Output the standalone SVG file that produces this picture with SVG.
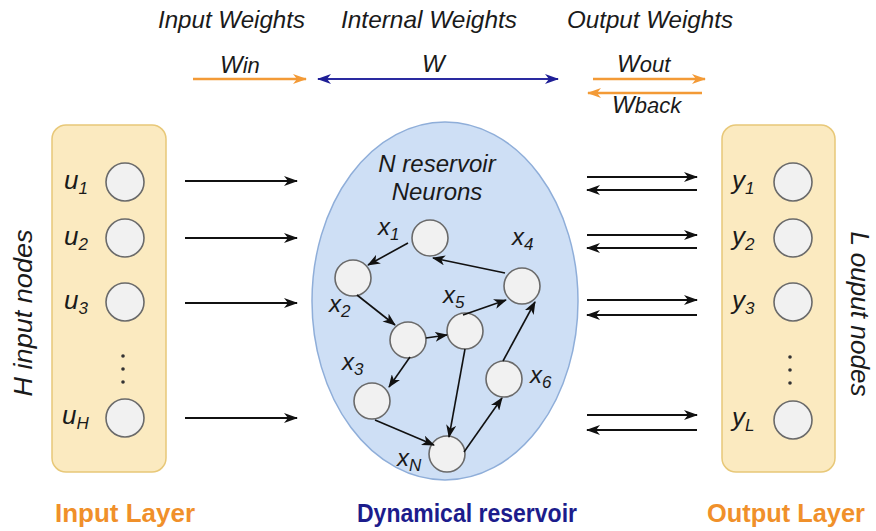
<svg xmlns="http://www.w3.org/2000/svg" width="876" height="531" viewBox="0 0 876 531">
<defs>
<style>
.it{font-family:"Liberation Sans",Arial,sans-serif;font-style:italic;fill:#1a1a1a}
.hd{font-size:24px}
.lb{font-size:26px}
.sb{font-size:17px}
.rl{font-size:24px}
.bt{font-family:"Liberation Sans",Arial,sans-serif;font-weight:bold;font-size:26px}
.layer{fill:#FBEAC0;stroke:#E8C878;stroke-width:1.5}
.nd{fill:#F1F1F1;stroke:#6A6A6A;stroke-width:1.6}
.blk{stroke:#111;stroke-width:2;fill:none;marker-end:url(#mk)}
.edg{stroke:#111;stroke-width:1.6;fill:none;marker-end:url(#ms)}
</style>
<marker id="mk" viewBox="0 0 14 10" refX="13" refY="5" markerWidth="14" markerHeight="10" orient="auto" markerUnits="userSpaceOnUse"><path d="M0,0 L14,5 L0,10 L4,5 z" fill="#111"/></marker>
<marker id="ms" viewBox="0 0 13 10" refX="12" refY="5" markerWidth="13" markerHeight="10" orient="auto" markerUnits="userSpaceOnUse"><path d="M0,0 L13,5 L0,10 L3.5,5 z" fill="#111"/></marker>
<marker id="mo" viewBox="0 0 14 10" refX="13" refY="5" markerWidth="14" markerHeight="11" orient="auto" markerUnits="userSpaceOnUse"><path d="M0,0 L14,5 L0,10 L4,5 z" fill="#F39A36"/></marker>
<marker id="mb" viewBox="0 0 14 10" refX="13" refY="5" markerWidth="14" markerHeight="11" orient="auto-start-reverse" markerUnits="userSpaceOnUse"><path d="M0,0 L14,5 L0,10 L4,5 z" fill="#1E1E96"/></marker>
</defs>

<g id="header">
<text class="it hd" x="158" y="28" textLength="147" lengthAdjust="spacingAndGlyphs">Input Weights</text>
<text class="it hd" x="341" y="28" textLength="176" lengthAdjust="spacingAndGlyphs">Internal Weights</text>
<text class="it hd" x="567" y="28" textLength="166" lengthAdjust="spacingAndGlyphs">Output Weights</text>
<text class="it hd" x="220" y="73">W<tspan font-size="22">in</tspan></text>
<text class="it hd" x="422" y="72">W</text>
<text class="it hd" x="617" y="72">W<tspan font-size="22">out</tspan></text>
<text class="it hd" x="612" y="113">W<tspan font-size="22">back</tspan></text>
</g>

<g id="input-layer">
<rect class="layer" x="52" y="125" width="114" height="347" rx="14"/>
<circle class="nd" cx="125" cy="182" r="19"/>
<circle class="nd" cx="125" cy="238" r="19"/>
<circle class="nd" cx="125" cy="302" r="19"/>
<circle class="nd" cx="125" cy="418" r="19"/>
<circle cx="123" cy="356" r="1.8" fill="#333"/>
<circle cx="123" cy="369" r="1.8" fill="#333"/>
<circle cx="123" cy="382" r="1.8" fill="#333"/>
<text class="it lb" x="64" y="189">u<tspan class="sb" dy="5">1</tspan></text>
<text class="it lb" x="64" y="245">u<tspan class="sb" dy="5">2</tspan></text>
<text class="it lb" x="64" y="309">u<tspan class="sb" dy="5">3</tspan></text>
<text class="it lb" x="62" y="424">u<tspan class="sb" dy="5">H</tspan></text>
<text class="it lb" transform="translate(32,313) rotate(-90)" text-anchor="middle" textLength="167" lengthAdjust="spacingAndGlyphs">H input nodes</text>
</g>

<g id="output-layer">
<rect class="layer" x="722" y="125" width="113" height="347" rx="14"/>
<circle class="nd" cx="793" cy="182" r="19"/>
<circle class="nd" cx="793" cy="238" r="19"/>
<circle class="nd" cx="793" cy="302" r="19"/>
<circle class="nd" cx="793" cy="420" r="19"/>
<circle cx="790" cy="357" r="1.8" fill="#333"/>
<circle cx="790" cy="370" r="1.8" fill="#333"/>
<circle cx="790" cy="383" r="1.8" fill="#333"/>
<text class="it lb" x="732" y="189">y<tspan class="sb" dy="5">1</tspan></text>
<text class="it lb" x="732" y="245">y<tspan class="sb" dy="5">2</tspan></text>
<text class="it lb" x="732" y="309">y<tspan class="sb" dy="5">3</tspan></text>
<text class="it lb" x="732" y="426">y<tspan class="sb" dy="5">L</tspan></text>
<text class="it" font-size="25" transform="translate(851,314) rotate(90)" text-anchor="middle" textLength="165" lengthAdjust="spacingAndGlyphs">L ouput nodes</text>
</g>

<g id="reservoir">
<ellipse cx="445" cy="301" rx="133" ry="179" fill="#CEDFF5" stroke="#8FAED9" stroke-width="1.5"/>
<text class="it rl" x="437" y="172" text-anchor="middle">N reservoir</text>
<text class="it rl" x="437" y="200" text-anchor="middle">Neurons</text>
</g>

<g id="x1"><circle class="nd" cx="430" cy="238" r="18"/><text class="it rl" x="378" y="235">x<tspan class="sb" dy="5">1</tspan></text></g>
<g id="x2"><circle class="nd" cx="353" cy="278" r="18"/><text class="it rl" x="329" y="312">x<tspan class="sb" dy="5">2</tspan></text></g>
<g id="x3"><circle class="nd" cx="372" cy="401" r="18"/><text class="it rl" x="342" y="370">x<tspan class="sb" dy="5">3</tspan></text></g>
<g id="x4"><circle class="nd" cx="522" cy="286" r="18"/><text class="it rl" x="512" y="245">x<tspan class="sb" dy="5">4</tspan></text></g>
<g id="x5"><circle class="nd" cx="465" cy="331" r="18"/><text class="it rl" x="443" y="303">x<tspan class="sb" dy="5">5</tspan></text></g>
<g id="x6"><circle class="nd" cx="504" cy="379" r="18"/><text class="it rl" x="530" y="383">x<tspan class="sb" dy="5">6</tspan></text></g>
<g id="xm"><circle class="nd" cx="408" cy="340" r="18"/></g>
<g id="xN"><circle class="nd" cx="447" cy="454" r="18"/><text class="it rl" x="397" y="466">x<tspan class="sb" dy="5">N</tspan></text></g>

<g id="connectors">
<line x1="193" y1="79" x2="306" y2="79" stroke="#F39A36" stroke-width="2.5" marker-end="url(#mo)"/>
<line x1="318" y1="79" x2="558" y2="79" stroke="#2A2AA0" stroke-width="2" marker-start="url(#mb)" marker-end="url(#mb)"/>
<line x1="593" y1="79" x2="705" y2="79" stroke="#F39A36" stroke-width="2.5" marker-end="url(#mo)"/>
<line x1="702" y1="93" x2="588" y2="93" stroke="#F39A36" stroke-width="2.5" marker-end="url(#mo)"/>

<line class="blk" x1="185" y1="181" x2="297" y2="181"/>
<line class="blk" x1="185" y1="238" x2="297" y2="238"/>
<line class="blk" x1="185" y1="303" x2="297" y2="303"/>
<line class="blk" x1="185" y1="418" x2="297" y2="418"/>

<line class="blk" x1="587" y1="177" x2="697" y2="177"/>
<line class="blk" x1="697" y1="190" x2="587" y2="190"/>
<line class="blk" x1="587" y1="235" x2="697" y2="235"/>
<line class="blk" x1="697" y1="248" x2="587" y2="248"/>
<line class="blk" x1="587" y1="300" x2="697" y2="300"/>
<line class="blk" x1="697" y1="315" x2="587" y2="315"/>
<line class="blk" x1="587" y1="415" x2="697" y2="415"/>
<line class="blk" x1="697" y1="430" x2="587" y2="430"/>

<line class="edg" x1="408" y1="243" x2="368" y2="265"/>
<line class="edg" x1="505" y1="273" x2="433" y2="258"/>
<line class="edg" x1="357" y1="295" x2="395" y2="325"/>
<line class="edg" x1="426" y1="338" x2="447" y2="335"/>
<line class="edg" x1="463" y1="315" x2="506" y2="300"/>
<line class="edg" x1="410" y1="357" x2="389" y2="387"/>
<line class="edg" x1="375" y1="420" x2="434" y2="445"/>
<line class="edg" x1="465" y1="349" x2="449" y2="437"/>
<line class="edg" x1="464" y1="452" x2="502" y2="398"/>
<line class="edg" x1="503" y1="361" x2="535" y2="302"/>
</g>

<g id="footer">
<text class="bt" x="55" y="522" fill="#F0902A" textLength="140" lengthAdjust="spacingAndGlyphs">Input Layer</text>
<text class="bt" x="357" y="522" fill="#1C1C8C" textLength="220" lengthAdjust="spacingAndGlyphs">Dynamical reservoir</text>
<text class="bt" x="707" y="522" fill="#F0902A" textLength="158" lengthAdjust="spacingAndGlyphs">Output Layer</text>
</g>
</svg>
